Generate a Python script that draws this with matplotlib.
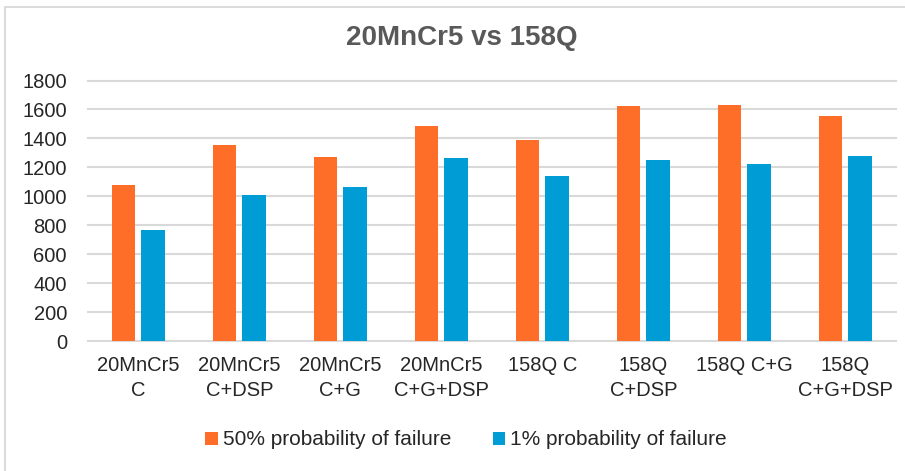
import numpy as np
import matplotlib
matplotlib.use("Agg")
import matplotlib.pyplot as plt
from matplotlib.patches import Rectangle

categories = ["20MnCr5\nC", "20MnCr5\nC+DSP", "20MnCr5\nC+G", "20MnCr5\nC+G+DSP",
              "158Q C", "158Q\nC+DSP", "158Q C+G", "158Q\nC+G+DSP"]
p50 = [1075, 1356, 1271, 1488, 1389, 1624, 1631, 1557]
p1 = [766, 1010, 1061, 1262, 1140, 1250, 1220, 1276]
yticks = [0, 200, 400, 600, 800, 1000, 1200, 1400, 1600, 1800]

orange = "#FF6E29"
blue = "#009CD6"

plt.rcParams['font.family'] = ['Liberation Sans', 'DejaVu Sans']

fig = plt.figure(figsize=(9.05, 4.71), dpi=100)
ax = fig.add_axes([0.097, 0.276, 0.893, 0.553])

# thin frame round the whole chart area
fig.patches.append(Rectangle((5 / 905, -0.05), 1.2, 1 - 7 / 471 + 0.05,
                             transform=fig.transFigure, fill=False,
                             edgecolor="#D4D4D4", linewidth=1.2))

x = np.arange(len(categories))
w = 0.23
ax.bar(x - 0.145, p50, w, color=orange, label="50% probability of failure", zorder=3)
ax.bar(x + 0.145, p1, w, color=blue, label="1% probability of failure", zorder=3)

ax.set_xlim(-0.5, len(categories) - 0.5)
ax.set_ylim(0, 1800)
ax.set_yticks(yticks)
ax.set_yticklabels([str(t) for t in yticks], fontsize=14.5, color="#262626")
ax.set_xticks(x)
ax.set_xticklabels(categories, fontsize=14.5, color="#262626", linespacing=1.4)
ax.tick_params(axis="both", length=0)
ax.tick_params(axis="y", pad=15)
ax.tick_params(axis="x", pad=11)
ax.grid(axis="y", color="#D9D9D9", linewidth=1.5, zorder=0)
ax.set_axisbelow(True)
for s in ax.spines.values():
    s.set_visible(False)
for line in ax.get_ygridlines():
    line.set_clip_on(False)

fig.text(0.51, 0.919, "20MnCr5 vs 158Q", ha="center", va="center",
         fontsize=20, fontweight="bold", color="#595959")

fig.legend(loc="center", bbox_to_anchor=(0.515, 0.066), ncol=2, frameon=False,
           fontsize=15, handlelength=0.58, handleheight=0.58, handletextpad=0.25,
           columnspacing=2.0, labelcolor="#262626")

fig.savefig("out.png", dpi=100, facecolor="white")
